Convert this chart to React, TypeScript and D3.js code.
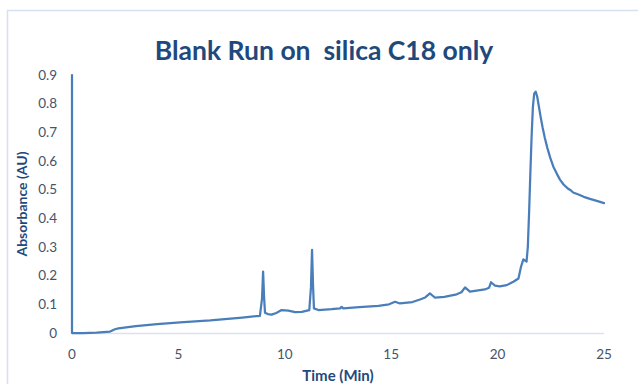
import React from "react";
import * as d3 from "d3";

// Chromatogram trace: [time (min), absorbance (AU)]
const timeMin: number[] = [
  0, 0, 0.5, 1.16, 1.79, 2.02, 2.18, 3.0, 4.0, 5.08, 6.5, 8.0, 8.83, 8.93, 8.98, 9.03, 9.07, 9.2, 9.38, 9.6,
  9.85, 10.17, 10.48, 10.8, 11.15, 11.23, 11.28, 11.33, 11.37, 11.58, 12.2, 12.6, 12.67, 12.75, 13.5, 14.4,
  14.9, 15.18, 15.41, 16.0, 16.35, 16.6, 16.82, 17.06, 17.5, 18.08, 18.3, 18.47, 18.7, 19.4, 19.6, 19.69,
  19.88, 20.1, 20.43, 20.74, 20.98, 21.1, 21.21, 21.36, 21.42, 21.48, 21.54, 21.6, 21.66, 21.72, 21.79, 21.86,
  21.94, 22.02, 22.12, 22.22, 22.34, 22.48, 22.62, 22.78, 22.93, 23.1, 23.32, 23.45, 23.55, 23.8, 24.05,
  24.34, 24.7, 25.0,
];
const absorbance: number[] = [
  0.9, 0, 0.0, 0.001, 0.005, 0.013, 0.016, 0.024, 0.031, 0.037, 0.044, 0.054, 0.06, 0.12, 0.214, 0.12, 0.071, 0.066, 0.064, 0.07,
  0.08, 0.078, 0.073, 0.074, 0.08, 0.16, 0.29, 0.16, 0.086, 0.08, 0.083, 0.086, 0.091, 0.086, 0.09, 0.095,
  0.1, 0.109, 0.103, 0.108, 0.117, 0.124, 0.138, 0.123, 0.126, 0.135, 0.142, 0.159, 0.144, 0.152, 0.158, 0.177,
  0.165, 0.163, 0.167, 0.179, 0.19, 0.231, 0.257, 0.249, 0.3, 0.42, 0.56, 0.69, 0.79, 0.835, 0.842, 0.825,
  0.79, 0.755, 0.715, 0.68, 0.645, 0.61, 0.58, 0.556, 0.535, 0.518, 0.503, 0.497, 0.49, 0.483, 0.475,
  0.468, 0.46, 0.453,
];

const xTicks: number[] = [0, 5, 10, 15, 20, 25];
const yTicks: number[] = [0, 0.1, 0.2, 0.3, 0.4, 0.5, 0.6, 0.7, 0.8, 0.9];

const W = 638;
const H = 384;
const plot = { left: 72, right: 604, top: 75, bottom: 333 };
const FONT = "Lato, 'Open Sans', sans-serif";
const TEXT = "#44546a";
const TITLE = "#1f497d";

export default function App() {
  const x = d3.scaleLinear().domain([0, 25]).range([plot.left, plot.right]);
  const y = d3.scaleLinear().domain([0, 0.9]).range([plot.bottom, plot.top]);
  const pts: [number, number][] = timeMin.map((t, i) => [t, absorbance[i]]);
  const line = d3
    .line<[number, number]>()
    .x((d) => x(d[0]))
    .y((d) => y(d[1]))
    .curve(d3.curveLinear);

  return (
    <svg
      width={W}
      height={H}
      style={{ position: "absolute", left: 0, top: 0, background: "#fff" }}
    >
      <rect x={7.5} y={10.5} width={W + 10} height={H + 10} fill="#fff" stroke="#d5e0f1" strokeWidth={1.5} />
      <text x={324} y={60} textAnchor="middle" fontFamily={FONT} fontWeight={700} fontSize={26.5} fill={TITLE}>
        Blank Run on{"\u00a0\u00a0"}silica C18 only
      </text>

      {/* x axis baseline */}
      <line x1={plot.left} x2={plot.right} y1={plot.bottom + 0.5} y2={plot.bottom + 0.5} stroke="#d9e2f0" strokeWidth={1.5} />

      {yTicks.map((v) => (
        <text key={v} x={57} y={y(v)} dy="0.35em" textAnchor="end" fontFamily={FONT} fontSize={13.5} fill={TEXT}>
          {v === 0 ? "0" : v.toFixed(1)}
        </text>
      ))}
      {xTicks.map((v) => (
        <text key={v} x={x(v)} y={354} dy="0.35em" textAnchor="middle" fontFamily={FONT} fontSize={13.5} fill={TEXT}>
          {v}
        </text>
      ))}

      <text x={338} y={381} textAnchor="middle" fontFamily={FONT} fontWeight={700} fontSize={15} fill={TITLE}>
        Time (Min)
      </text>
      <text
        transform={`translate(27,204) rotate(-90)`}
        textAnchor="middle"
        fontFamily={FONT}
        fontWeight={700}
        fontSize={14}
        fill={TITLE}
      >
        Absorbance (AU)
      </text>

      <path d={line(pts) ?? ""} fill="none" stroke="#4a7ebb" strokeWidth={2.25} strokeLinejoin="round" strokeLinecap="round" />
    </svg>
  );
}
